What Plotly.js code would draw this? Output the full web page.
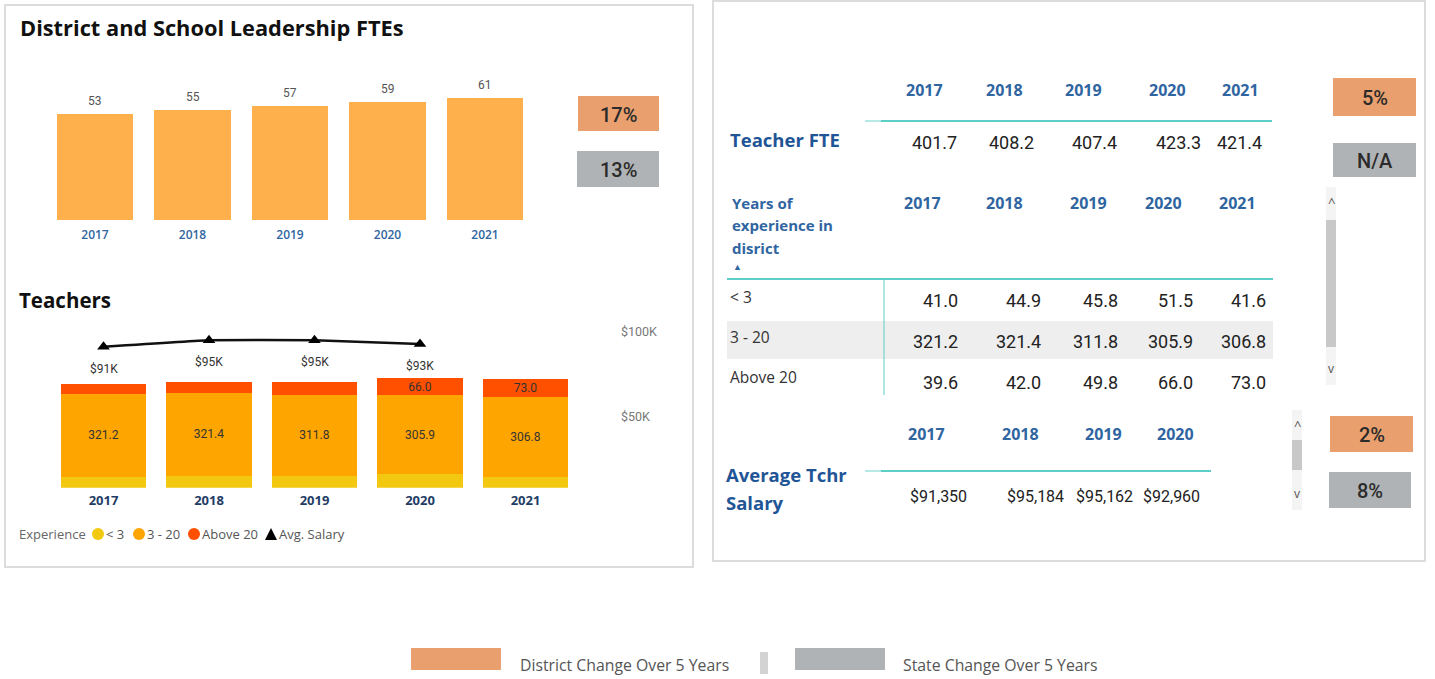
<!DOCTYPE html>
<html><head><meta charset="utf-8">
<script src="https://cdn.plot.ly/plotly-3.0.1.min.js"></script>
<style>html,body{margin:0;padding:0;background:#fff;}#chart{width:1435px;height:679px;}</style>
</head><body><div id="chart"></div>
<script>
// ---------------- DATA ----------------
const years = ['2017','2018','2019','2020','2021'];
const leadershipFTE = [53,55,57,59,61];
const experienceGroups = ['< 3','3 - 20','Above 20'];
const expUnder3 = [41.0,44.9,45.8,51.5,41.6];
const exp3to20 = [321.2,321.4,311.8,305.9,306.8];
const expAbove20 = [39.6,42.0,49.8,66.0,73.0];
const salaryYears = ['2017','2018','2019','2020'];
const avgSalary = [91350,95184,95162,92960];
const salaryTicks = [50000,100000];
const teacherFTE = [401.7,408.2,407.4,423.3,421.4];
const leadershipChange = ['17%','13%'];
const teacherChange = ['5%','N/A'];
const salaryChange = ['2%','8%'];
const changeLegend = ['District Change Over 5 Years','State Change Over 5 Years'];
const chartTitles = ['District and School Leadership FTEs','Teachers'];
const tableLabels = {fte:'Teacher FTE', exp:['Years of','experience in','disrict'], sal:['Average Tchr','Salary']};
const legendTitle = 'Experience';
const salaryName = 'Avg. Salary';
const minInsideLabel = 60;

// ---------------- STYLE / LAYOUT HELPERS ----------------
const W = 1435, H = 679;
const X = p => p / W, Y = p => 1 - p / H;
const SEG = '"Open Sans", "Noto Sans", sans-serif';
const DIN = 'Roboto, "Noto Sans", sans-serif';
const BLUE = '#2F65A0', NAVY = '#1F3D66', TEAL = '#5CCFC6';
const C_ORANGE_BOX = '#EAA06E', C_GRAY_BOX = '#B0B3B5';
const C_LEAD = '#FDB04B', C_U3 = '#F2C811', C_MID = '#FFA500', C_A20 = '#FF5000';

const annotations = [], shapes = [];
function ann(text, x, y, o) {
  o = o || {};
  annotations.push({text: text, x: X(x), y: Y(y), xref: 'paper', yref: 'paper', showarrow: false,
    xanchor: o.xa || 'center', yanchor: 'middle',
    font: {family: o.family || SEG, size: o.size || 14, color: o.color || '#333', weight: o.weight || 400}});
}
function rect(x0, y0, x1, y1, fill, line, lw) {
  shapes.push({type: 'rect', xref: 'paper', yref: 'paper', x0: X(x0), x1: X(x1), y0: Y(y1), y1: Y(y0),
    fillcolor: fill || 'rgba(0,0,0,0)', line: {color: line || 'rgba(0,0,0,0)', width: lw || 0}, layer: 'below'});
}
function hline(x0, x1, y, color, w) {
  shapes.push({type: 'line', xref: 'paper', yref: 'paper', x0: X(x0), x1: X(x1), y0: Y(y), y1: Y(y), line: {color: color, width: w || 2}});
}
function vline(x, y0, y1, color, w) {
  shapes.push({type: 'line', xref: 'paper', yref: 'paper', x0: X(x), x1: X(x), y0: Y(y0), y1: Y(y1), line: {color: color, width: w || 1}});
}
function box(x0, y0, x1, y1, fill, label) {
  rect(x0, y0, x1, y1, fill);
  ann(label, (x0 + x1) / 2, (y0 + y1) / 2 + 1, {size: 20, family: DIN, color: '#2b2b2b', weight: 500});
}
function scrollbar(x0, x1, y0, y1, t0, t1) {
  rect(x0, y0, x1, y1, '#F4F4F4');
  rect(x0, t0, x1, t1, '#C8C8C8');
  ann('^', (x0 + x1) / 2, y0 + 15, {size: 13, color: '#555'});
  ann('v', (x0 + x1) / 2, y1 - 17, {size: 12, color: '#555'});
}

// panels
rect(5, 5, 693, 567, '#FFFFFF', '#DCDCDC', 2);
rect(713, 1, 1425, 561, '#FFFFFF', '#DCDCDC', 2);

// chart titles
ann(chartTitles[0], 18, 28, {xa: 'left', size: 21.8, weight: 700, color: '#111'});
ann(chartTitles[1], 17, 300, {xa: 'left', size: 20.5, weight: 700, color: '#111'});

// change boxes
box(578, 96, 659, 131, C_ORANGE_BOX, leadershipChange[0]);
box(577, 151, 659, 187, C_GRAY_BOX, leadershipChange[1]);
box(1333, 78, 1416, 116, C_ORANGE_BOX, teacherChange[0]);
box(1333, 143, 1416, 177, C_GRAY_BOX, teacherChange[1]);
box(1330, 416, 1413, 452, C_ORANGE_BOX, salaryChange[0]);
box(1329, 472, 1411, 508, C_GRAY_BOX, salaryChange[1]);

// ---- Table 1: Teacher FTE
const t1HeadX = [924, 1004, 1083, 1167, 1240];
const t1ValR = [959, 1036, 1119, 1203, 1264];
years.forEach((yr, i) => ann(yr, t1HeadX[i], 90, {size: 16, weight: 700, color: BLUE}));
hline(865, 881, 121, '#B5EAE5', 2);
hline(881, 1272, 121, TEAL, 2);
ann(tableLabels.fte, 728, 140, {xa: 'left', size: 18.5, weight: 700, color: '#1F5596'});
teacherFTE.forEach((v, i) => ann(v.toFixed(1), t1ValR[i], 142, {xa: 'right', size: 18, family: DIN, color: '#222'}));

// ---- Table 2: years of experience
const t2HeadX = [922, 1004, 1088, 1163, 1237];
const t2ValR = [960, 1043, 1120, 1195, 1268];
const t2LabelY = [297, 337, 377], t2ValY = [300, 341, 382];
tableLabels.exp.forEach((s, i) => ann(s, 730, 203 + i * 22.5, {xa: 'left', size: 15, weight: 700, color: BLUE}));
ann('▲', 737, 267, {size: 9, color: BLUE});
years.forEach((yr, i) => ann(yr, t2HeadX[i], 203, {size: 16, weight: 700, color: BLUE}));
rect(727, 321, 1273, 359, '#EEEEEE');
hline(727, 1273, 279, TEAL, 2);
vline(884, 280, 395, TEAL, 1);
const expRows = [expUnder3, exp3to20, expAbove20];
experienceGroups.forEach((g, r) => {
  ann(g, 728, t2LabelY[r], {xa: 'left', size: 15.5, color: '#333'});
  expRows[r].forEach((v, i) => ann(v.toFixed(1), t2ValR[i], t2ValY[r], {xa: 'right', size: 18, family: DIN, color: '#222'}));
});
scrollbar(1326, 1336, 187, 385, 220, 347);

// ---- Table 3: salary
const t3HeadX = [927, 1020, 1103, 1175];
const t3ValX = [938, 1035, 1104, 1171];
salaryYears.forEach((yr, i) => ann(yr, t3HeadX[i], 434, {size: 16, weight: 700, color: BLUE}));
hline(865, 881, 471, '#B5EAE5', 2);
hline(881, 1211, 471, TEAL, 2);
ann(tableLabels.sal[0], 724, 474, {xa: 'left', size: 18.5, weight: 700, color: '#1F5596'});
ann(tableLabels.sal[1], 724, 502, {xa: 'left', size: 18.5, weight: 700, color: '#1F5596'});
avgSalary.forEach((v, i) => ann('$' + v.toLocaleString('en-US'), t3ValX[i], 497, {size: 16, family: DIN, color: '#222'}));
scrollbar(1292, 1302, 410, 510, 440, 470);

// ---- bottom legend
rect(411, 648, 501, 670, C_ORANGE_BOX);
ann(changeLegend[0], 518, 665, {xa: 'left', size: 15.8, color: '#555'});
rect(760, 652, 768, 674, '#D3D3D3');
rect(795, 648, 885, 670, C_GRAY_BOX);
ann(changeLegend[1], 901, 665, {xa: 'left', size: 15.8, color: '#555'});

// ---- Teachers chart legend (Power BI style: title + circle markers + triangle)
const legY = 534;
ann(legendTitle, 17, legY, {xa: 'left', size: 13, color: '#666'});
const legSymX = [98, 139, 194, 271];
[C_U3, C_MID, C_A20].forEach((c, i) => {
  shapes.push({type: 'circle', xref: 'paper', yref: 'paper', x0: X(legSymX[i] - 6), x1: X(legSymX[i] + 6),
    y0: Y(legY + 6), y1: Y(legY - 6), fillcolor: c, line: {width: 0}});
  ann(experienceGroups[i], legSymX[i] + 6, legY, {xa: 'left', size: 13, color: '#555'});
});
const tx = legSymX[3];
shapes.push({type: 'path', xref: 'paper', yref: 'paper', fillcolor: '#000', line: {width: 0},
  path: 'M' + X(tx - 6) + ',' + Y(legY + 6) + ' L' + X(tx + 6) + ',' + Y(legY + 6) + ' L' + X(tx) + ',' + Y(legY - 6) + ' Z'});
ann(salaryName, tx + 6, legY, {xa: 'left', size: 13, color: '#555'});

// salary labels below line points
salaryYears.forEach((yr, i) => annotations.push({
  text: '$' + Math.round(avgSalary[i] / 1000) + 'K', x: years.indexOf(yr), y: avgSalary[i], xref: 'x2', yref: 'y3',
  showarrow: false, yshift: -22, font: {family: DIN, size: 12, color: '#333'}
}));

// leadership FTE value labels above bars
years.forEach((yr, i) => annotations.push({
  text: String(leadershipFTE[i]), x: i, y: leadershipFTE[i], xref: 'x', yref: 'y', yanchor: 'bottom',
  showarrow: false, yshift: 4, font: {family: DIN, size: 12, color: '#555'}
}));

// ---------------- TRACES ----------------
const noHover = {hoverinfo: 'skip'};
const traces = [
  Object.assign({type: 'bar', x: years, y: leadershipFTE, xaxis: 'x', yaxis: 'y', width: 0.78,
    marker: {color: C_LEAD}}, noHover),
  Object.assign({type: 'bar', name: experienceGroups[0], x: years, y: expUnder3, xaxis: 'x2', yaxis: 'y2', width: 0.806,
    marker: {color: C_U3}}, noHover),
  Object.assign({type: 'bar', name: experienceGroups[1], x: years, y: exp3to20, xaxis: 'x2', yaxis: 'y2', width: 0.806,
    marker: {color: C_MID}, text: exp3to20.map(v => v.toFixed(1)), textposition: 'inside', insidetextanchor: 'middle',
    constraintext: 'none', textangle: 0, textfont: {family: DIN, size: 12, color: '#333'}}, noHover),
  Object.assign({type: 'bar', name: experienceGroups[2], x: years, y: expAbove20, xaxis: 'x2', yaxis: 'y2', width: 0.806,
    marker: {color: C_A20}, text: expAbove20.map(v => v >= minInsideLabel ? v.toFixed(1) : ''), textposition: 'inside',
    insidetextanchor: 'middle', constraintext: 'none', textangle: 0,
    textfont: {family: DIN, size: 12, color: '#333'}}, noHover),
  Object.assign({type: 'scatter', mode: 'lines+markers', name: salaryName, x: salaryYears, y: avgSalary,
    xaxis: 'x2', yaxis: 'y3', line: {color: '#111', width: 2.5, shape: 'spline', smoothing: 0.3},
    marker: {symbol: 'triangle-up', size: 11, color: '#000'}, cliponaxis: false}, noHover)
];

const hidden = {visible: false, fixedrange: true};
const layout = {
  width: W, height: H, margin: {l: 0, r: 0, t: 0, b: 0}, paper_bgcolor: '#fff', plot_bgcolor: 'rgba(0,0,0,0)',
  barmode: 'stack', font: {family: SEG}, showlegend: false,
  xaxis: {domain: [X(46.25), X(533.75)], anchor: 'y', type: 'category', categoryorder: 'array', categoryarray: years,
    range: [-0.5, 4.5], showgrid: false, zeroline: false, showline: false, ticks: '', ticklabelstandoff: 6,
    tickfont: {family: SEG, size: 12, color: BLUE, weight: 600}, fixedrange: true},
  yaxis: Object.assign({domain: [Y(220), Y(80)], range: [0, 70], anchor: 'x'}, hidden),
  xaxis2: {domain: [X(50.75), X(578.25)], anchor: 'y2', type: 'category', categoryorder: 'array', categoryarray: years,
    range: [-0.5, 4.5], showgrid: false, zeroline: false, showline: false, ticks: '', ticklabelstandoff: 3,
    tickfont: {family: SEG, size: 13, color: NAVY, weight: 700}, fixedrange: true},
  yaxis2: Object.assign({domain: [Y(487.7), Y(320)], range: [0, 647.5], anchor: 'x2'}, hidden),
  yaxis3: {domain: [Y(502), Y(320)], range: [0, 107060], anchor: 'free', position: X(620), side: 'right',
    showgrid: false, zeroline: false, showline: false, ticks: '', tickvals: salaryTicks,
    ticktext: salaryTicks.map(v => '$' + (v / 1000) + 'K'), tickfont: {family: DIN, size: 12.5, color: '#777'}, fixedrange: true},
  annotations: annotations, shapes: shapes
};
Plotly.newPlot('chart', traces, layout, {displayModeBar: false, staticPlot: true});
</script></body></html>
